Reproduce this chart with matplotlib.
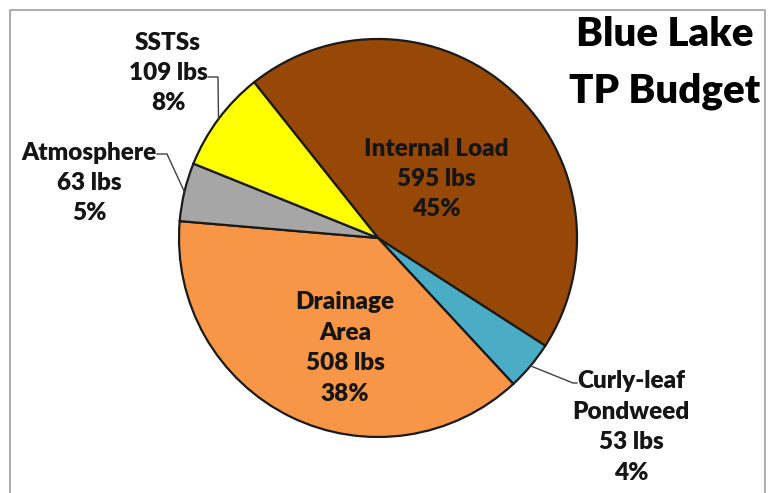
import numpy as np
import matplotlib.pyplot as plt

sources = ['Internal Load', 'Curly-leaf\nPondweed', 'Drainage\nArea', 'Atmosphere', 'SSTSs']
loads = [595, 53, 508, 63, 109]
colors = ['#974706', '#4bacc6', '#f79646', '#a6a6a6', '#ffff00']

# label centres in pixel coords (x, y from top), layout only
label_pos = [(436, 179), (631, 427), (345, 348), (89, 183), (168, 73)]
leader = [False, True, False, True, True]

W, H = 773, 493
cx, cy, r = 378, 238, 199

plt.rcParams['font.family'] = ['Lato', 'DejaVu Sans']
fig = plt.figure(figsize=(W / 100, H / 100), dpi=100)
ax = fig.add_axes([0, 0, 1, 1])

wedges, _ = ax.pie(loads, colors=colors, startangle=128.5, counterclock=False,
                   center=(cx, H - cy), radius=r, frame=True,
                   wedgeprops=dict(edgecolor='#1a1a1a', linewidth=1.6))
ax.set_xlim(0, W)
ax.set_ylim(0, H)
ax.axis('off')

total = sum(loads)
for w, name, val, (lx, ly), lead in zip(wedges, sources, loads, label_pos, leader):
    txt = '%s\n%d lbs\n%d%%' % (name, val, round(100 * val / total))
    ax.text(lx, H - ly, txt, ha='center', va='center', fontsize=17.5,
            fontweight='heavy', linespacing=1.47, color='#151515')
    if lead:
        mid = np.deg2rad((w.theta1 + w.theta2) / 2)
        ex, ey = cx + r * np.cos(mid), H - cy + r * np.sin(mid)
        if ex < cx:
            sx, sy = (208, 77) if name == 'SSTSs' else (157, 154)
            ax.plot([sx, sx + 10, ex], [H - sy, H - sy, ey], color='#404040', lw=1)
        else:
            ax.plot([ex, 573, 577], [ey, H - 383, H - 383], color='#404040', lw=1)

ax.text(665, H - 63, 'Blue Lake\nTP Budget', ha='center', va='center',
        fontsize=29, fontweight='heavy', linespacing=1.68)

# grey frame of the original slide
ax.plot([10, 10, 765, 765], [-5, H - 10, H - 10, -5], color='#a0a0a0', lw=1.2)

fig.savefig('out.png', dpi=100)
